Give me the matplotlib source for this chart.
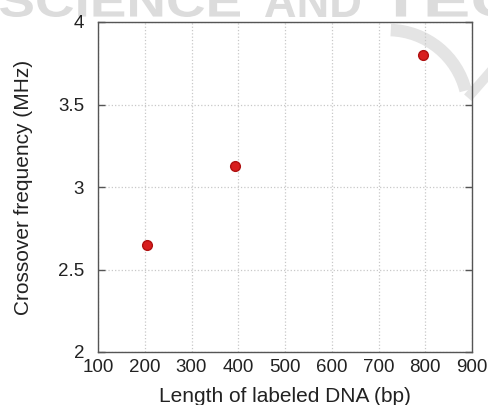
# Crossover frequency vs labeled DNA length
import matplotlib.pyplot as plt
from matplotlib.textpath import TextPath
from matplotlib.font_manager import FontProperties
from matplotlib.patches import PathPatch, Arc
from matplotlib.transforms import Affine2D, IdentityTransform

plt.rcParams['font.family'] = ['Liberation Sans', 'DejaVu Sans']

length_bp = [205, 392, 796]
crossover_mhz = [2.65, 3.13, 3.80]
xticks = [100, 200, 300, 400, 500, 600, 700, 800, 900]
yticks = [2, 2.5, 3, 3.5, 4]
ytick_labels = ["2", "2.5", "3", "3.5", "4"]

W, H = 488, 405
fig = plt.figure(figsize=(W/100, H/100), dpi=100)
ax = fig.add_axes([98/W, 1 - 352/H, 374/W, 330/H])
ax.patch.set_alpha(0)

# watermark from the source page (pixel coords, top-left origin)
wm_color = '#dcdcdc'
bold = FontProperties(family='Liberation Sans', weight='bold')
for word, x0, x1 in [("SCIENCE", 0, 240), ("AND", 265, 360), ("TEC", 380, 520)]:
    tp = TextPath((0, 0), word, size=46, prop=bold)
    bb = tp.get_extents()
    sx = (x1 - x0) / bb.width
    tr = Affine2D().translate(-bb.x0, -bb.y0).scale(sx, 1).translate(x0, H - 17)
    fig.patches.append(PathPatch(tp, transform=tr + IdentityTransform(),
                                 fc=wm_color, ec='none', zorder=-2))
fig.patches.append(Arc((388, H - 110), 160, 160, theta1=14, theta2=88,
                       transform=IdentityTransform(), color='#e4e4e4',
                       linewidth=9, zorder=-2))
fig.lines.append(plt.Line2D([471, 492], [H - 94, H - 70], transform=IdentityTransform(),
                            color='#e4e4e4', linewidth=7, zorder=-2))

ax.plot(length_bp, crossover_mhz, 'o', color='#d81e1e', markeredgecolor='#b01010',
        markersize=7, zorder=3)

ax.set_xlim(100, 900)
ax.set_ylim(2, 4)
ax.set_xticks(xticks)
ax.set_yticks(yticks)
ax.set_yticklabels(ytick_labels)
ax.grid(True, color='#c8c8c8', linestyle=':', linewidth=0.9)
ax.tick_params(direction='in', length=5, width=1, color='#555555', labelsize=13.5,
               labelcolor='#222222', right=True)
ax.tick_params(axis='y', pad=10)
ax.tick_params(axis='x', length=0, pad=5)
for s in ax.spines.values():
    s.set_color('#555555')
    s.set_linewidth(1)

ax.set_xlabel("Length of labeled DNA (bp)", fontsize=15, color='#222222', labelpad=8)
ax.set_ylabel("Crossover frequency (MHz)", fontsize=15, color='#222222', labelpad=18)

fig.savefig("out.png", dpi=100)
